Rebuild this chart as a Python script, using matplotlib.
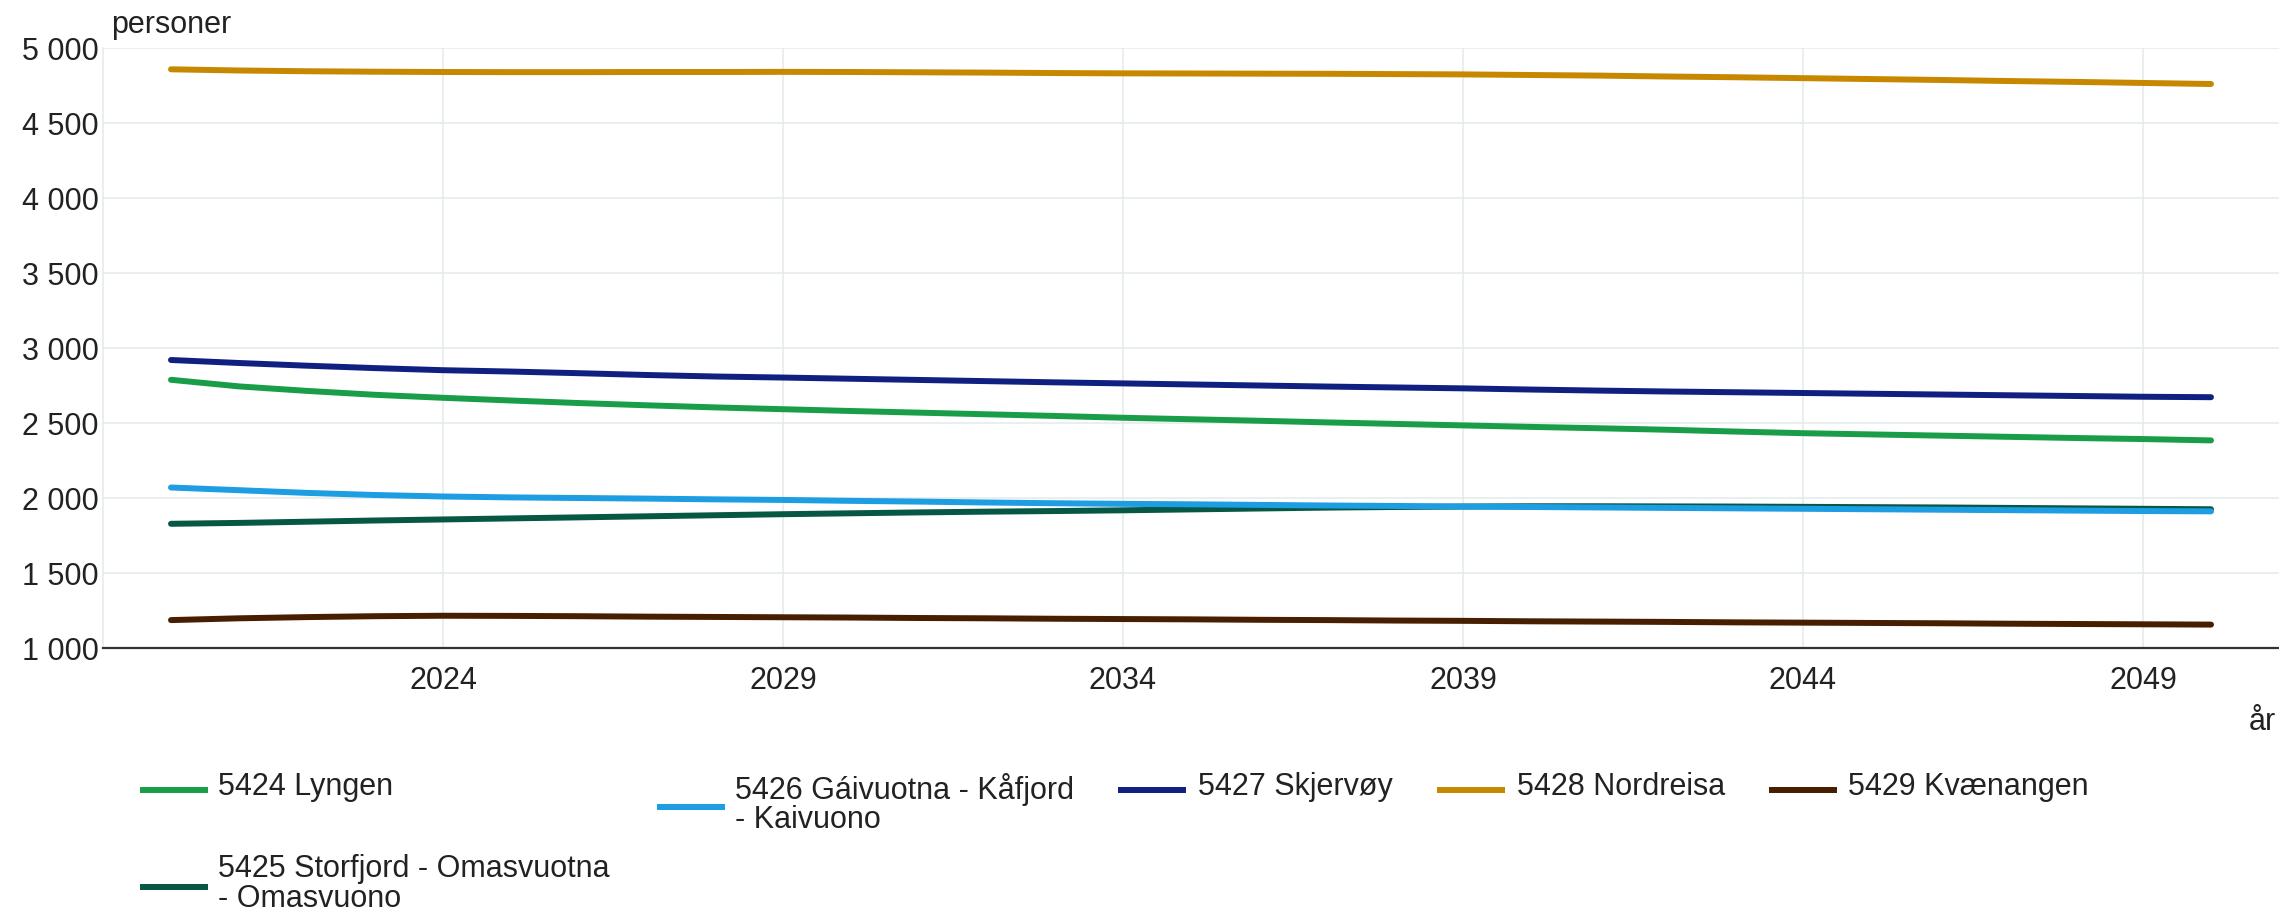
import matplotlib
matplotlib.use("Agg")
import matplotlib.pyplot as plt
from matplotlib.lines import Line2D
from matplotlib.ticker import FuncFormatter, MultipleLocator

plt.rcParams['font.family'] = ['Liberation Sans', 'DejaVu Sans']

years = list(range(2020, 2051))

lyngen = [2788, 2744, 2714, 2688, 2668, 2650, 2633, 2618, 2604, 2592, 2580,
          2569, 2558, 2547, 2535, 2525, 2515, 2504, 2494, 2484, 2474,
          2465, 2455, 2443, 2432, 2424, 2416, 2408, 2400, 2393, 2384]
storfjord = [1828, 1834, 1842, 1850, 1857, 1864, 1871, 1878, 1885, 1892, 1898,
             1904, 1909, 1913, 1918, 1924, 1930, 1936, 1940, 1943, 1945,
             1945, 1944, 1943, 1941, 1939, 1937, 1934, 1931, 1928, 1925]
gaivuotna = [2070, 2052, 2034, 2020, 2010, 2004, 2000, 1996, 1991, 1987, 1981,
             1976, 1970, 1965, 1961, 1958, 1954, 1950, 1947, 1943, 1940,
             1937, 1934, 1931, 1928, 1925, 1922, 1919, 1916, 1913, 1911]
skjervoy = [2920, 2900, 2882, 2866, 2852, 2843, 2832, 2820, 2810, 2803, 2795,
            2787, 2779, 2771, 2764, 2757, 2750, 2743, 2737, 2731, 2723,
            2716, 2710, 2705, 2700, 2695, 2690, 2685, 2680, 2675, 2672]
nordreisa = [4858, 4850, 4845, 4842, 4840, 4839, 4839, 4840, 4840, 4841, 4840,
             4838, 4836, 4833, 4831, 4830, 4829, 4828, 4826, 4824, 4820,
             4816, 4810, 4805, 4799, 4793, 4787, 4780, 4774, 4767, 4760]
kvaenangen = [1186, 1198, 1206, 1212, 1215, 1214, 1212, 1209, 1207, 1205, 1203,
              1200, 1198, 1195, 1193, 1191, 1188, 1186, 1183, 1181, 1178,
              1176, 1174, 1171, 1169, 1167, 1165, 1162, 1160, 1158, 1156]

names = ["5424 Lyngen", "5425 Storfjord - Omasvuotna\n- Omasvuono",
         "5426 Gáivuotna - Kåfjord\n- Kaivuono", "5427 Skjervøy",
         "5428 Nordreisa", "5429 Kvænangen"]
series = [lyngen, storfjord, gaivuotna, skjervoy, nordreisa, kvaenangen]
colors = ["#1a9d49", "#075745", "#1d9de2", "#0f2080", "#c78800", "#471f00"]

xticks = [2024, 2029, 2034, 2039, 2044, 2049]

W, H = 2279, 913
fig = plt.figure(figsize=(W / 100, H / 100), dpi=100)
fig.set_facecolor("white")


def fx(px):
    return px / W


def fy(py):
    return 1 - py / H


ax = fig.add_axes([fx(103), fy(648), fx(W - 103), (648 - 48) / H])

for vals, col in zip(series, colors):
    ax.plot(years, vals, color=col, lw=4.3, solid_capstyle="round", zorder=3)

ax.set_xlim(2019, 2051)
ax.set_ylim(1000, 5000)
ax.set_xticks(xticks)
ax.yaxis.set_major_locator(MultipleLocator(500))
ax.yaxis.set_major_formatter(FuncFormatter(lambda v, p: f"{v:,.0f}".replace(",", " ")))
ax.grid(True, color="#e3e9e9", lw=1.1, zorder=0)
ax.tick_params(length=0, labelsize=22, colors="#222222")
ax.tick_params(axis="y", pad=3)
ax.tick_params(axis="x", pad=13)
for s in ["top", "right"]:
    ax.spines[s].set_visible(False)
ax.spines["left"].set_color("#e3e9e9")
ax.spines["left"].set_linewidth(1.1)
ax.spines["bottom"].set_color("#333333")
ax.spines["bottom"].set_linewidth(1.6)
ax.spines["bottom"].set_zorder(4)

fig.text(fx(111), fy(25), "personer", fontsize=22, color="#222222", va="center", ha="left")
fig.text(fx(2276), fy(722), "år", fontsize=22, color="#222222", va="center", ha="right")

# legend, placed by hand like the original layout
legend_pos = [
    (143, 787, 218),   # Lyngen
    (143, 884, 218),   # Storfjord
    (660, 804, 735),   # Gáivuotna
    (1121, 787, 1198),  # Skjervøy
    (1440, 787, 1517),  # Nordreisa
    (1772, 787, 1848),  # Kvænangen
]
for (hx, hy, tx), name, col in zip(legend_pos, names, colors):
    fig.add_artist(Line2D([fx(hx), fx(hx + 62)], [fy(hy + 3), fy(hy + 3)], color=col, lw=4.3,
                          transform=fig.transFigure))
    fig.text(fx(tx), fy(hy), name, fontsize=22, color="#222222", va="center", ha="left",
             linespacing=0.98)

fig.savefig("out.png", dpi=100)
